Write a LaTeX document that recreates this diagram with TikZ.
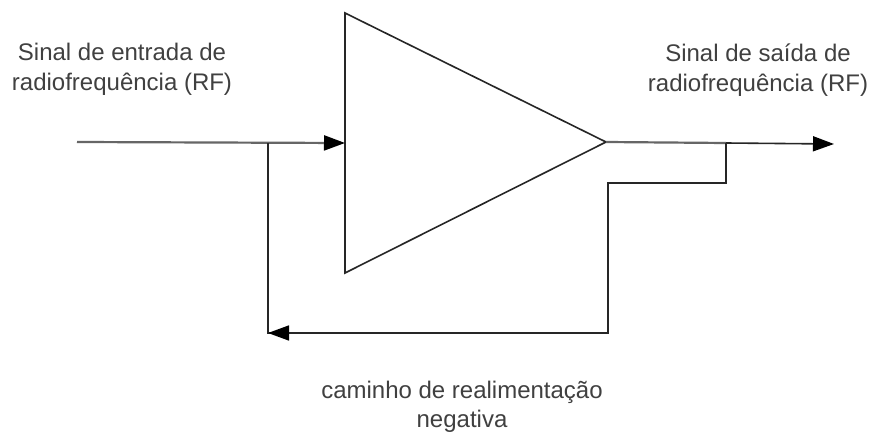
\documentclass[tikz,border=0pt]{standalone}
\usepackage{fontspec}
\setmainfont{Liberation Sans}
\usetikzlibrary{arrows.meta}
\tikzset{
  wire/.style={line width=1.6pt,draw=black!85},
  softwire/.style={line width=2.2pt,draw=black!60},
  tip/.style={-{Triangle[length=21pt,width=15pt,fill=black,color=black]}},
  lbl/.style={font=\fontsize{24pt}{29.5pt}\selectfont,text=black!75,align=center,inner sep=0pt},
  x=1pt,y=-1pt
}
\begin{document}
\begin{tikzpicture}
\useasboundingbox (0,0) rectangle (873,433);
\fill[white] (0,0) rectangle (873,433);
\coordinate (A) at (345,13);
\coordinate (B) at (345,273);
\coordinate (C) at (606,142);
\draw[wire] (A) -- (B) -- (C) -- cycle;
\coordinate (in) at (77,142);
\coordinate (inp) at (345,143);
\coordinate (j1) at (268,143);
\coordinate (out) at (834,144);
\coordinate (j2) at (726,143);
\coordinate (f1) at (726,183);
\coordinate (f2) at (608,183);
\coordinate (f3) at (608,333);
\coordinate (f4) at (268,333);
\draw[softwire,tip] (in) -- (inp);
\draw[softwire] (C) -- (j2);
\draw[wire,tip] (j2) -- (out);
\draw[wire] (j2) -- (f1) -- (f2) -- (f3) -- (f4) -- (j1);
\draw[wire,tip] (f3) -- (f4);
\node[lbl] (t1) at (122,69.5) {Sinal de entrada de\\radiofrequência (RF)};
\node[lbl] (t2) at (758,70) {Sinal de saída de\\radiofrequência (RF)};
\node[lbl] (t3) at (462,407) {caminho de realimentação\\negativa};
\end{tikzpicture}
\end{document}
